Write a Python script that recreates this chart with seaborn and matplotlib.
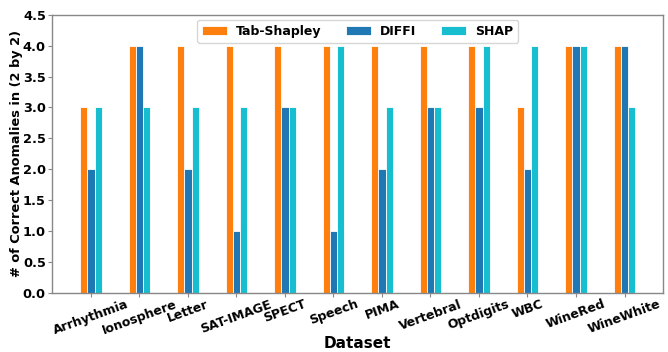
import matplotlib
matplotlib.use("Agg")
import matplotlib.pyplot as plt
import seaborn as sns
import pandas as pd

datasets = ["Arrhythmia", "Ionosphere", "Letter", "SAT-IMAGE", "SPECT", "Speech",
            "PIMA", "Vertebral", "Optdigits", "WBC", "WineRed", "WineWhite"]
tab_shapley = [3, 4, 4, 4, 4, 4, 4, 4, 4, 3, 4, 4]
diffi = [2, 4, 2, 1, 3, 1, 2, 3, 3, 2, 4, 4]
shap = [3, 3, 3, 3, 3, 4, 3, 3, 4, 4, 4, 3]
methods = ["Tab-Shapley", "DIFFI", "SHAP"]
colors = ["#ff7f0e", "#1f77b4", "#17becf"]

rows = []
for m, vals in zip(methods, [tab_shapley, diffi, shap]):
    for d, v in zip(datasets, vals):
        rows.append({"Dataset": d, "Method": m, "Value": v})
df = pd.DataFrame(rows)

sns.set_style("white")
plt.rcParams["font.family"] = ["DejaVu Sans"]
plt.rcParams["font.weight"] = "bold"
plt.rcParams["text.color"] = "black"
plt.rcParams["axes.labelcolor"] = "black"
plt.rcParams["xtick.labelcolor"] = "black"
plt.rcParams["ytick.labelcolor"] = "black"

fig = plt.figure(figsize=(6.68, 3.52), dpi=100)
ax = fig.add_axes([0.078, 0.168, 0.915, 0.79])
sns.barplot(data=df, x="Dataset", y="Value", hue="Method", order=datasets,
            hue_order=methods, palette=colors, width=0.45, ax=ax,
            edgecolor="white", linewidth=0.6, saturation=1)

ax.set_xlim(-0.8, 11.8)
ax.set_ylim(0, 4.5)
ax.set_yticks([i * 0.5 for i in range(10)])
ax.set_yticklabels([f"{i*0.5:.1f}" for i in range(10)], fontsize=9.3, fontweight="bold")
ax.set_xticks(range(len(datasets)))
ax.set_xticklabels(datasets, rotation=20, ha="center", fontsize=9, fontweight="bold")
ax.tick_params(axis="both", which="both", length=3, color="#888888", pad=1.5,
               bottom=True, left=True, labelcolor="black")
ax.tick_params(axis="x", pad=0.5)
for s in ax.spines.values():
    s.set_color("#888888")
    s.set_linewidth(1.0)
ax.set_xlabel("Dataset", fontsize=11, fontweight="bold", labelpad=-1, color="black")
ax.set_ylabel("# of Correct Anomalies in (2 by 2)", fontsize=9.3, fontweight="bold",
              labelpad=0, color="black")
leg = ax.legend(loc="upper center", ncol=3, prop={"weight": "bold", "size": 9},
                frameon=True, handlelength=2.0, handletextpad=0.7, columnspacing=2.0,
                bbox_to_anchor=(0.5, 1.0), borderaxespad=0.4, labelcolor="black")
leg.set_title(None)
fig.savefig("out.png", dpi=100)
